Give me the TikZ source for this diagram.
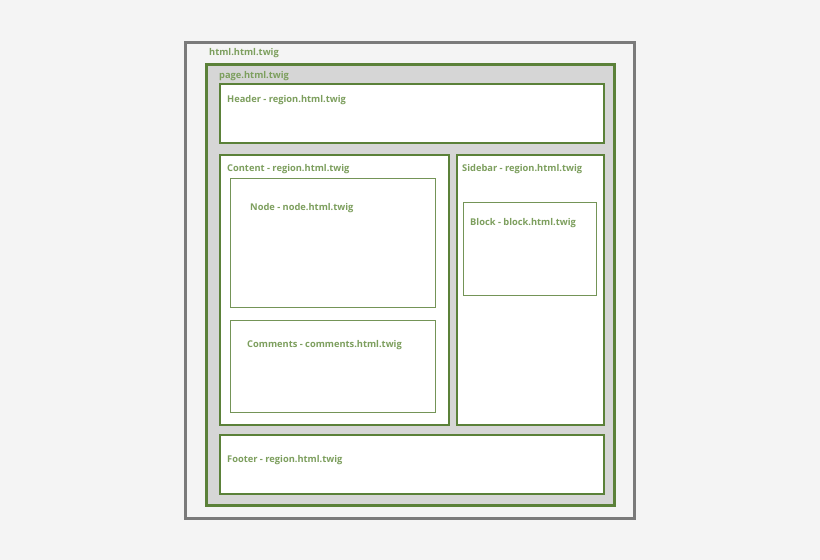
\documentclass[tikz,border=0pt]{standalone}
\usepackage{fontspec}
\setmainfont{Open Sans}
\usepackage{xcolor}
\usepackage{tikz}
\usetikzlibrary{positioning}

\definecolor{bggray}{HTML}{F4F4F4}
\definecolor{framegray}{HTML}{7A7A7A}
\definecolor{pagegray}{HTML}{D6D6D6}
\definecolor{twiggreen}{HTML}{5B8139}
\definecolor{labelgreen}{HTML}{7D9F5E}

\tikzset{
  twiglabel/.style={anchor=west, inner sep=0pt, text=labelgreen,
    font=\bfseries\fontsize{9.3}{11}\selectfont},
  regionbox/.style={draw=twiggreen, line width=2pt, fill=white},
  itembox/.style={draw=twiggreen!85, line width=1pt, fill=white}
}

\begin{document}
\begin{tikzpicture}[x=1pt, y=-1pt]
  % Nền và khung ảnh
  \fill[bggray] (0,0) rectangle (820,560);
  \useasboundingbox (0,0) rectangle (820,560);

  % --- KHUNG NGOÀI: html ---
  \draw[framegray, line width=3pt, fill=bggray] (185,42) rectangle (634,518);

  % --- KHUNG TRANG: page ---
  \draw[twiggreen, line width=3pt, fill=pagegray] (206,64) rectangle (614,505);

  % --- CÁC VÙNG (region) ---
  \draw[regionbox] (219.5,84)  rectangle (603.5,142.5); % Header
  \draw[regionbox] (219.5,155) rectangle (448.5,424.5); % Content
  \draw[regionbox] (456.5,155) rectangle (603.5,424.5); % Sidebar
  \draw[regionbox] (219.5,435) rectangle (603.5,493.5); % Footer

  % --- CÁC KHỐI BÊN TRONG ---
  \draw[itembox] (230.5,178.5) rectangle (435.5,307.5); % Node
  \draw[itembox] (230.5,320.5) rectangle (435.5,412.5); % Comments
  \draw[itembox] (463.5,202.5) rectangle (596.5,295.5); % Block

  % --- NHÃN ---
  \foreach \name/\x/\y/\txt in {
      html/209/53/{html.html.twig},
      page/219/76/{page.html.twig},
      header/227/100/{Header - region.html.twig},
      content/227/169/{Content - region.html.twig},
      sidebar/462/169/{Sidebar - region.html.twig},
      node/250/208/{Node - node.html.twig},
      comments/247/345/{Comments - comments.html.twig},
      block/470/223/{Block - block.html.twig},
      footer/227/460/{Footer - region.html.twig}
  } {
    \node[twiglabel] (\name) at (\x,\y) {\txt};
  }
\end{tikzpicture}
\end{document}
